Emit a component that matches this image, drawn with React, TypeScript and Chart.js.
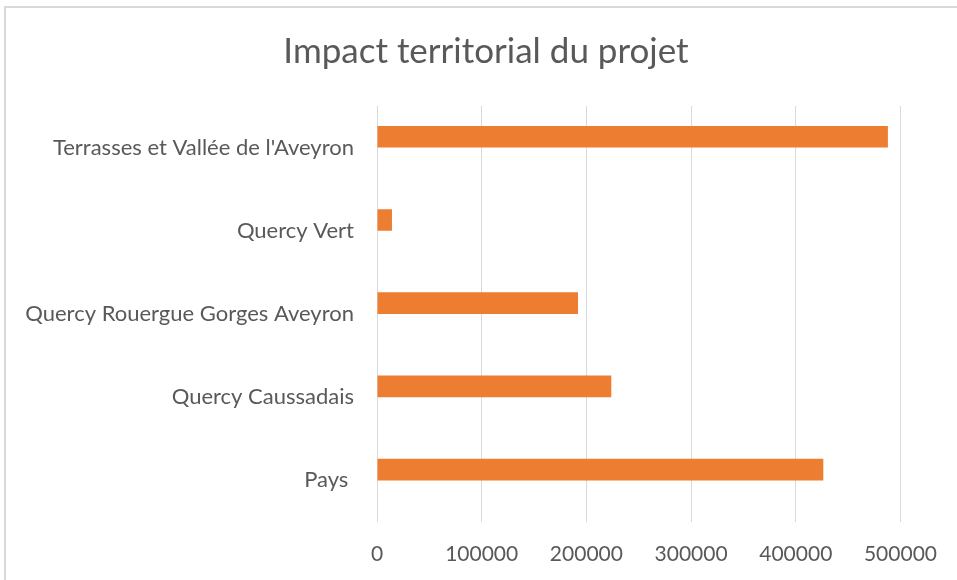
import React, { useEffect, useRef } from "react";
import { Chart, registerables } from "chart.js";

Chart.register(...registerables);

const categories = [
  "Terrasses et Vallée de l'Aveyron",
  "Quercy Vert",
  "Quercy Rouergue Gorges Aveyron",
  "Quercy Caussadais",
  "Pays ",
];
const impactValues = [488000, 14300, 192000, 223800, 426300];
const emptySeries = [null, null, null, null, null];
const xMin = 0;
const xMax = 500000;
const xStep = 100000;
const chartTitle = "Impact territorial du projet";

const FONT = "Lato, 'Open Sans', sans-serif";
const TEXT = "#595959";

export default function App() {
  const ref = useRef<HTMLCanvasElement | null>(null);

  useEffect(() => {
    document.body.style.margin = "0";
    const canvas = ref.current;
    if (!canvas) return;
    const chart = new Chart(canvas, {
      type: "bar",
      data: {
        labels: categories,
        datasets: [
          {
            label: "Impact",
            data: impactValues,
            backgroundColor: "#ED7D31",
            borderWidth: 0,
            barPercentage: 1,
            categoryPercentage: 0.52,
          },
          {
            label: "",
            data: emptySeries as any,
            backgroundColor: "#A5A5A5",
            borderWidth: 0,
            barPercentage: 1,
            categoryPercentage: 0.52,
          },
        ],
      },
      options: {
        indexAxis: "y",
        animation: false,
        responsive: false,
        maintainAspectRatio: false,
        layout: { padding: { left: 15, right: 0, top: 0, bottom: 0 } },
        plugins: {
          legend: { display: false },
          tooltip: { enabled: false },
          title: {
            display: true,
            text: chartTitle,
            color: TEXT,
            font: { family: FONT, size: 35, weight: "normal" },
            padding: { top: 31, bottom: 33 },
          },
        },
        scales: {
          x: {
            min: xMin,
            max: xMax,
            grid: { color: "#D9D9D9", lineWidth: 1, drawTicks: false },
            border: { display: false },
            ticks: {
              stepSize: xStep,
              color: TEXT,
              padding: 20,
              font: { family: FONT, size: 21 },
              callback: (v: any) => String(v),
            },
            afterFit: (scale: any) => {
              scale.height = 58;
            },
          },
          y: {
            grid: { display: false, drawTicks: false },
            border: { display: false },
            ticks: {
              color: TEXT,
              padding: 23,
              font: { family: FONT, size: 22 },
            },
            afterFit: (scale: any) => {
              scale.width = 362;
            },
          },
          yRight: {
            type: "linear",
            position: "right",
            display: true,
            grid: { display: false, drawTicks: false },
            border: { display: false },
            ticks: { display: false },
            afterFit: (scale: any) => {
              scale.width = 56;
            },
          },
        },
      },
    });
    return () => chart.destroy();
  }, []);

  return (
    <div style={{ position: "relative", width: 957, height: 580, overflow: "hidden", background: "#fff" }}>
      <canvas ref={ref} width={957} height={580} style={{ position: "absolute", left: 0, top: 0 }} />
      <div
        style={{
          position: "absolute",
          left: 4,
          top: 6,
          width: 1200,
          height: 1200,
          border: "2px solid #D9D9D9",
          pointerEvents: "none",
        }}
      />
    </div>
  );
}
